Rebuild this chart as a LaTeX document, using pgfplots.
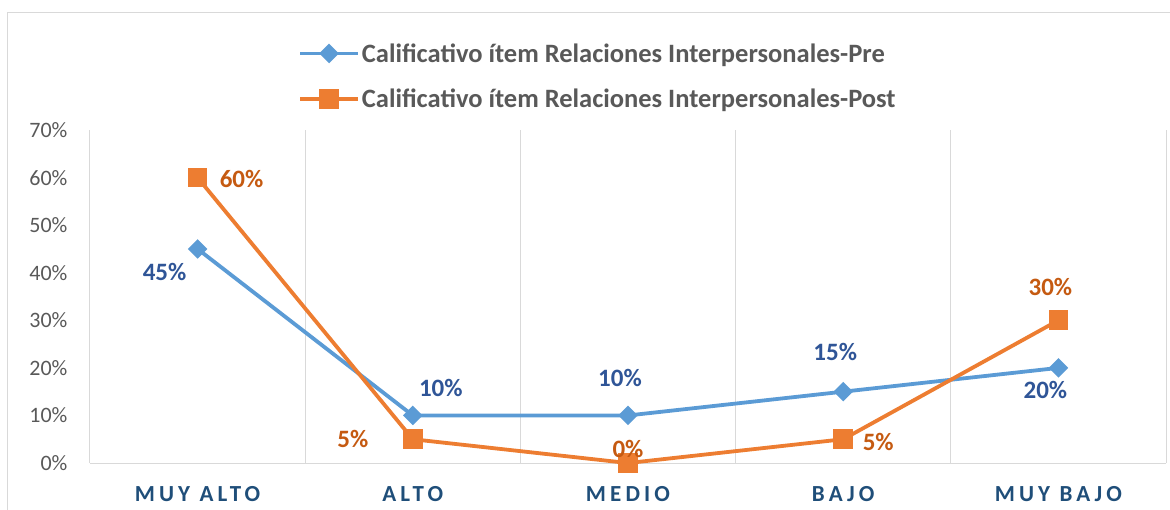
\documentclass[border=0pt]{standalone}
\usepackage{pgfplots}
\pgfplotsset{compat=1.18}
\usepackage{pgfplotstable}
\usepackage{fontspec}
\setmainfont{Carlito}

\definecolor{preblue}{HTML}{5B9BD5}
\definecolor{postorange}{HTML}{ED7D31}
\definecolor{prelabel}{HTML}{2F5597}
\definecolor{postlabel}{HTML}{C55A11}
\definecolor{catblue}{HTML}{1F4E79}
\definecolor{tickgray}{HTML}{595959}
\definecolor{gridgray}{HTML}{D9D9D9}

% x = category index, y = percent, dx/dy = label offset (pt)
\pgfplotstableread{
x y dx dy
0 45 -33 -23
1 10 28 27
2 10 -8 37
3 15 -8 40
4 20 -13 -22
}\pre
\pgfplotstableread{
x y dx dy
0 60 44 -1
1 5 -60 0
2 0 0 14
3 5 35 -3
4 30 -8 33
}\post

\begin{document}
\begin{tikzpicture}
\begin{axis}[
    scale only axis,
    width=1076pt, height=333pt,
    xmin=-0.5, xmax=4.5,
    ymin=0, ymax=70,
    axis x line*=bottom,
    axis y line*=left,
    x axis line style={gridgray, line width=1pt},
    y axis line style={draw=none},
    xtick={0,1,2,3,4},
    xticklabels={MUY ALTO, ALTO, MEDIO, BAJO, MUY BAJO},
    x tick label style={font=\fontsize{23}{26}\selectfont\bfseries\addfontfeature{LetterSpace=18}, text=catblue, yshift=-20pt},
    major x tick style={draw=none},
    extra x ticks={-0.5,0.5,1.5,2.5,3.5,4.5},
    extra x tick labels={},
    extra x tick style={grid=major, major grid style={gridgray, line width=1pt}, major tick length=0pt},
    ytick={0,10,...,70},
    yticklabel={\pgfmathprintnumber{\tick}\%},
    y tick label style={font=\fontsize{22}{26}\selectfont, text=tickgray, xshift=-19pt},
    /pgf/number format/assume math mode=true,
    major y tick style={draw=none},
    clip=false,
    point meta=explicit,
    nodes near coords={\pgfmathprintnumber{\pgfplotspointmeta}\%},
    visualization depends on={\thisrow{dx} \as \dx},
    visualization depends on={\thisrow{dy} \as \dy},
    every node near coord/.append style={anchor=center, xshift=\dx pt, yshift=\dy pt, font=\fontsize{25}{28}\selectfont\bfseries},
    legend style={at={(0.472,1.162)}, anchor=center, draw=none, font=\fontsize{26.5}{30}\selectfont\bfseries, text=tickgray, row sep=21pt, legend cell align=left},
    legend image code/.code={\draw[mark repeat=2, mark phase=2] plot coordinates {(0pt,0pt) (29pt,0pt) (58pt,0pt)};},
]
\addplot[preblue, line width=3.8pt, mark=square*, mark size=5pt, mark options={solid, rotate=45},
    every node near coord/.append style={text=prelabel}]
    table[x=x, y=y, meta=y] {\pre};
\addlegendentry{Calificativo ítem Relaciones Interpersonales-Pre}
\addplot[postorange, line width=3.8pt, mark=square*, mark size=8pt, mark options={solid},
    every node near coord/.append style={text=postlabel}]
    table[x=x, y=y, meta=y] {\post};
\addlegendentry{Calificativo ítem Relaciones Interpersonales-Post}
% chart area frame and page extent
\draw[gridgray, line width=1pt] (rel axis cs:-0.0762,-0.141) -- (rel axis cs:-0.0762,1.354) -- (rel axis cs:1.0037,1.354);
\coordinate (pgbl) at (rel axis cs:-0.0836,-0.141);
\coordinate (pgtr) at (rel axis cs:1.0037,1.3904);
\end{axis}
\pgfresetboundingbox
\path[use as bounding box] (pgbl) rectangle (pgtr);
\end{tikzpicture}
\end{document}
